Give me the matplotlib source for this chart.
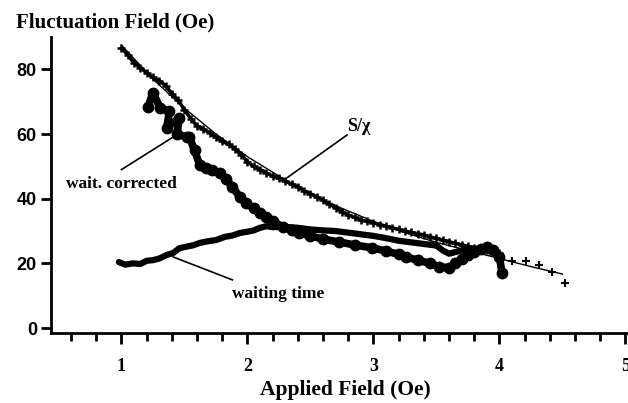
import matplotlib
matplotlib.use("Agg")
import matplotlib.pyplot as plt
from matplotlib.ticker import MultipleLocator

# S/chi measured points (plus markers)
s_chi_field = [1.0, 1.05, 1.1, 1.15, 1.2, 1.25, 1.3, 1.35, 1.4, 1.45, 1.5, 1.55, 1.6, 1.65,
               1.7, 1.75, 1.8, 1.85, 1.9, 1.95, 2.0, 2.05, 2.1, 2.15, 2.2, 2.25, 2.3, 2.35,
               2.4, 2.45, 2.5, 2.55, 2.6, 2.65, 2.7, 2.75, 2.8, 2.85, 2.9, 2.95, 3.0, 3.05,
               3.1, 3.15, 3.2, 3.25, 3.3, 3.35, 3.4, 3.45, 3.5, 3.55, 3.6, 3.65, 3.7, 3.75,
               3.8, 3.85, 3.9, 3.95, 4.0]
s_chi_value = [86.5, 84.5, 82.0, 80.5, 79.0, 77.5, 76.5, 75.0, 72.5, 70.5, 67.5, 64.8, 62.5, 61.5,
               60.4, 59.0, 57.8, 56.8, 55.5, 53.5, 51.5, 50.0, 49.0, 48.0, 47.0, 46.3, 45.5, 44.5,
               43.7, 42.5, 41.5, 40.6, 39.5, 38.3, 37.2, 36.0, 35.0, 34.2, 33.4, 33.0, 32.5, 32.0,
               31.5, 31.0, 30.5, 30.0, 29.6, 29.2, 28.8, 28.2, 27.7, 27.2, 26.7, 26.2, 25.7, 25.3,
               24.8, 24.3, 24.0, 23.7, 23.3]
# sparse tail of S/chi beyond 4 Oe
tail_field = [4.1, 4.21, 4.31, 4.42, 4.52]
tail_value = [20.8, 20.8, 19.5, 17.3, 14.0]

# smooth curve through S/chi
fit_field = [1.0, 1.25, 1.5, 1.75, 2.0, 2.25, 2.5, 2.75, 3.0, 3.25, 3.5, 3.75, 4.0, 4.25, 4.5]
fit_value = [87.5, 77.0, 68.0, 60.0, 53.0, 47.0, 41.5, 37.0, 33.0, 29.5, 26.5, 24.0, 21.5, 19.0, 16.7]

# waiting-time corrected (filled circles)
corr_field = [1.21, 1.25, 1.31, 1.38, 1.36, 1.46, 1.44, 1.52, 1.54, 1.58, 1.62, 1.67, 1.72, 1.78,
              1.83, 1.88, 1.94, 1.99, 2.05, 2.1, 2.15, 2.2, 2.28, 2.35, 2.41, 2.5, 2.6, 2.73,
              2.85, 2.99, 3.1, 3.2, 3.26, 3.35, 3.45, 3.52, 3.6, 3.65, 3.7, 3.75, 3.8, 3.85,
              3.9, 3.95, 4.0, 4.02]
corr_value = [68.4, 72.7, 68.0, 67.0, 62.0, 65.0, 60.0, 59.0, 59.0, 55.0, 50.5, 49.5, 49.0, 48.0,
              46.0, 43.7, 40.5, 38.7, 37.0, 35.5, 34.4, 33.0, 31.3, 30.2, 29.4, 28.5, 27.5, 26.6,
              25.7, 24.8, 23.8, 22.8, 22.0, 21.0, 20.0, 19.0, 18.6, 20.0, 21.5, 22.5, 23.5, 24.5,
              25.0, 24.0, 22.0, 17.0]

# raw waiting time
wait_field = [0.98, 1.03, 1.09, 1.15, 1.2, 1.25, 1.3, 1.36, 1.41, 1.46, 1.52, 1.57, 1.62, 1.68,
              1.75, 1.82, 1.88, 1.94, 2.0, 2.05, 2.1, 2.15, 2.2, 2.3, 2.4, 2.5, 2.6, 2.7, 2.8,
              2.9, 3.0, 3.1, 3.2, 3.3, 3.4, 3.5, 3.55, 3.6, 3.65, 3.7, 3.8, 3.9, 3.95, 4.0]
wait_value = [20.4, 19.6, 20.0, 19.8, 20.8, 21.0, 21.5, 22.6, 23.2, 24.7, 25.2, 25.6, 26.3, 26.8,
              27.2, 28.2, 28.6, 29.4, 29.8, 30.2, 31.0, 31.5, 31.2, 31.3, 31.0, 30.5, 30.2, 30.0,
              29.5, 29.0, 28.5, 27.8, 27.0, 26.5, 26.0, 25.5, 24.0, 23.0, 23.5, 24.0, 24.5, 24.5,
              23.5, 22.0]

serif = "Liberation Serif"
sans = "Liberation Sans"

fig = plt.figure(figsize=(6.28, 4.03), dpi=100)
ax = fig.add_axes([0.081, 0.174, 0.919, 0.734])

ax.plot(fit_field, fit_value, color="black", lw=1.0)
ax.plot(s_chi_field, s_chi_value, color="black", lw=2.5, marker="+", ms=6, mew=1.8)
ax.plot(tail_field, tail_value, ls="none", color="black", marker="+", ms=6, mew=1.5)
ax.plot(corr_field, corr_value, color="black", lw=5.5, marker="o", ms=7.5,
        solid_capstyle="round", solid_joinstyle="round")
ax.plot(wait_field, wait_value, color="black", lw=4.5,
        solid_capstyle="round", solid_joinstyle="round")

# leader lines and curve labels
ax.plot([2.29, 2.79], [45.8, 59.7], color="black", lw=1.2)
ax.text(2.79, 59.7, "S/χ", fontsize=13, family=serif, fontweight="bold", va="bottom", ha="left")
ax.plot([1.44, 1.0], [59.8, 49.0], color="black", lw=1.2)
ax.text(1.0, 47.0, "wait. corrected", fontsize=12.5, family=serif, fontweight="bold",
        va="top", ha="center")
ax.plot([1.41, 1.88], [22.0, 14.9], color="black", lw=1.2)
ax.text(1.88, 13.0, "waiting time", fontsize=12.5, family=serif, fontweight="bold",
        va="top", ha="left")

ax.set_xlim(0.44, 5.02)
ax.set_ylim(-1.5, 90)
ax.set_xticks([1, 2, 3, 4, 5])
ax.xaxis.set_minor_locator(MultipleLocator(0.2))
ax.set_yticks([0, 20, 40, 60, 80])

for side in ["top", "right"]:
    ax.spines[side].set_visible(False)
for side in ["left", "bottom"]:
    ax.spines[side].set_linewidth(2)

ax.tick_params(axis="x", which="major", direction="out", length=8, width=2, pad=10)
ax.tick_params(axis="x", which="minor", direction="out", length=6, width=2)
ax.tick_params(axis="y", which="major", direction="out", length=7, width=2, pad=3)
for lab in ax.get_xticklabels():
    lab.set_fontfamily(serif)
    lab.set_fontweight("bold")
    lab.set_fontsize(13)
for lab in ax.get_yticklabels():
    lab.set_fontfamily(sans)
    lab.set_fontweight("bold")
    lab.set_fontsize(13)

fig.text(0.025, 0.945, "Fluctuation Field (Oe)", fontsize=15, family=serif, fontweight="bold",
         ha="left", va="center")
fig.text(0.55, 0.032, "Applied Field (Oe)", fontsize=15.5, family=serif, fontweight="bold",
         ha="center", va="center")

fig.savefig("out.png", dpi=100)
